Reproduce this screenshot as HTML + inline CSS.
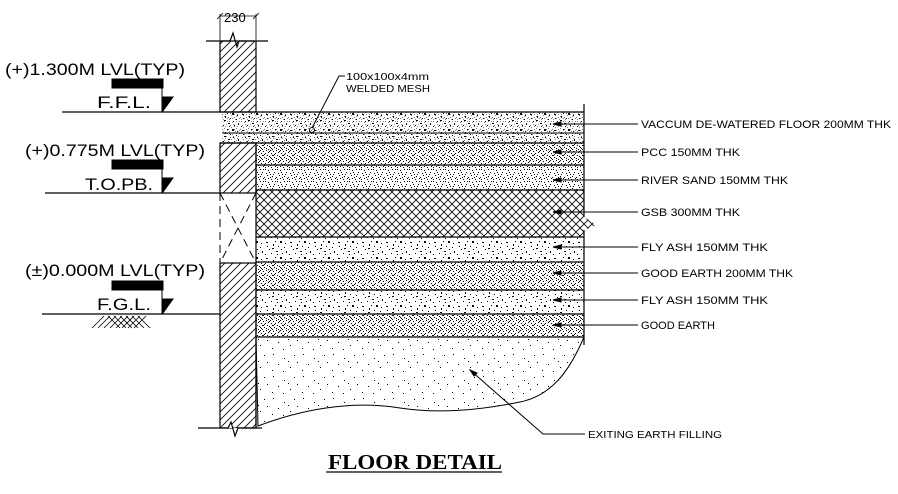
<!DOCTYPE html>
<html><head><meta charset="utf-8"><style>
html,body{margin:0;padding:0;background:#fff;width:898px;height:494px;overflow:hidden}
svg{display:block}
text{font-family:"Liberation Sans",sans-serif;fill:#000}
</style></head><body>
<svg width="898" height="494" viewBox="0 0 898 494" xmlns="http://www.w3.org/2000/svg">
<defs>
<pattern id="hatch" width="8" height="8" patternUnits="userSpaceOnUse">
<path d="M-1,9 L9,-1 M-1,1 L1,-1 M7,9 L9,7" stroke="#000" stroke-width="0.8"/>
</pattern>
<pattern id="cross" width="8" height="8" patternUnits="userSpaceOnUse">
<path d="M0,0 L8,8 M8,0 L0,8" stroke="#000" stroke-width="0.8"/>
</pattern>
<pattern id="fine" width="12" height="12" patternUnits="userSpaceOnUse">
<g fill="#000">
<rect x="1" y="1" width="1" height="1"/><rect x="4" y="2" width="1" height="1"/><rect x="8" y="1" width="1" height="1"/>
<rect x="10" y="4" width="1" height="1"/><rect x="2" y="5" width="1" height="1"/><rect x="6" y="6" width="1" height="1"/>
<rect x="0" y="9" width="1" height="1"/><rect x="4" y="10" width="1" height="1"/><rect x="8" y="8" width="1" height="1"/>
<rect x="11" y="10" width="1" height="1"/><rect x="7" y="11" width="1" height="1"/><rect x="3" y="7" width="1" height="1"/>
<rect x="9" y="6" width="1" height="1"/><rect x="5" y="4" width="1" height="1"/><rect x="1" y="11" width="1" height="1"/>
<rect x="11" y="1" width="1" height="1"/><rect x="6" y="9" width="1" height="1"/>
</g></pattern>
<pattern id="dense" width="10" height="10" patternUnits="userSpaceOnUse">
<g fill="#000">
<rect x="0" y="0" width="1" height="1"/><rect x="3" y="1" width="1" height="1"/><rect x="6" y="0" width="1" height="1"/>
<rect x="8" y="2" width="1" height="1"/><rect x="1" y="3" width="1" height="1"/><rect x="5" y="3" width="1" height="1"/>
<rect x="2" y="5" width="2" height="1"/><rect x="7" y="5" width="1" height="1"/><rect x="9" y="6" width="1" height="1"/>
<rect x="0" y="7" width="1" height="1"/><rect x="4" y="7" width="1" height="1"/><rect x="6" y="8" width="1" height="1"/>
<rect x="2" y="9" width="1" height="1"/><rect x="8" y="9" width="1" height="1"/><rect x="4" y="4" width="1" height="1"/>
<rect x="9" y="1" width="1" height="1"/><rect x="1" y="8" width="1" height="1"/>
</g></pattern>
<pattern id="speck" width="24" height="16" patternUnits="userSpaceOnUse">
<g fill="#000">
<rect x="2" y="2" width="2" height="1"/><rect x="9" y="4" width="1" height="2"/><rect x="16" y="1" width="2" height="2"/>
<rect x="20" y="7" width="1" height="1"/><rect x="5" y="9" width="1" height="1"/><rect x="12" y="11" width="2" height="1"/>
<rect x="18" y="13" width="1" height="1"/><rect x="1" y="14" width="1" height="1"/><rect x="14" y="6" width="1" height="1"/>
<rect x="7" y="13" width="1" height="1"/><rect x="22" y="11" width="1" height="2"/><rect x="11" y="1" width="1" height="1"/>
<rect x="3" y="6" width="1" height="1"/><rect x="17" y="9" width="1" height="1"/><rect x="8" y="8" width="2" height="1"/>
<rect x="21" y="3" width="1" height="1"/><rect x="13" y="14" width="1" height="1"/>
</g></pattern>
<pattern id="sparse" width="30" height="22" patternUnits="userSpaceOnUse">
<g fill="#000">
<rect x="3" y="2" width="1" height="1"/><rect x="14" y="6" width="1" height="1"/><rect x="24" y="3" width="1" height="1"/>
<rect x="8" y="12" width="1" height="1"/><rect x="20" y="15" width="1" height="1"/><rect x="27" y="10" width="1" height="1"/>
<rect x="2" y="18" width="1" height="1"/><rect x="13" y="19" width="1" height="1"/><rect x="18" y="9" width="1" height="1"/>
</g></pattern>
</defs>

<text x="224" y="22" font-size="13">230</text>
<line x1="220" y1="16" x2="256" y2="16" stroke="#000" stroke-width="0.8"/>
<line x1="220" y1="14" x2="220" y2="40" stroke="#000" stroke-width="0.8"/>
<line x1="256" y1="14" x2="256" y2="40" stroke="#000" stroke-width="0.8"/>
<path d="M217,19 L223,13 M253,19 L259,13" stroke="#000" stroke-width="0.8"/>
<path d="M206,41 L230,41 L233,33 L237,47 L239,41 L268,41" fill="none" stroke="#000" stroke-width="1.2"/>

<rect x="220" y="41" width="36" height="71" fill="url(#hatch)" stroke="#000" stroke-width="1.2"/>
<rect x="220" y="143" width="36" height="50" fill="url(#hatch)" stroke="#000" stroke-width="1.2"/>
<rect x="220" y="263" width="36" height="165" fill="url(#hatch)" stroke="#000" stroke-width="1.2"/>
<path d="M220,193 V263 M256,193 V263 M220,193 L256,263 M256,193 L220,263" stroke="#000" stroke-width="1" stroke-dasharray="8,5" fill="none"/>
<path d="M198,428 L228,428 L231,422 L235,436 L238,428 L262,428" fill="#fff" stroke="#000" stroke-width="1.2"/>

<rect x="222" y="112" width="362" height="31" fill="url(#speck)"/>
<rect x="222" y="112" width="362" height="31" fill="url(#fine)" opacity="0.5"/>
<line x1="222" y1="133" x2="584" y2="133" stroke="#000" stroke-width="1"/>
<rect x="256" y="143" width="328" height="22" fill="url(#dense)"/>
<rect x="256" y="165" width="328" height="25" fill="url(#fine)"/>
<path d="M256,190 L584,190 L584,217 L597,225 L584,230 L584,237 L256,237 Z" fill="url(#cross)"/>
<rect x="256" y="237" width="328" height="25" fill="url(#speck)"/>
<rect x="256" y="262" width="328" height="28" fill="url(#dense)"/>
<rect x="256" y="290" width="328" height="24" fill="url(#speck)"/>
<rect x="256" y="314" width="328" height="23" fill="url(#dense)"/>
<path d="M256,337 L584,337 C572,365 555,395 520,402 C480,410 440,414 400,408 C350,400 300,410 258,426 Z" fill="url(#sparse)" stroke="#000" stroke-width="1"/>
<g stroke="#000" stroke-width="1.2">
<line x1="62" y1="112" x2="584" y2="112"/>
<line x1="220" y1="143" x2="584" y2="143"/>
<line x1="256" y1="165" x2="584" y2="165"/>
<line x1="45" y1="193" x2="220" y2="193"/><line x1="256" y1="190" x2="584" y2="190"/>
<line x1="256" y1="237" x2="584" y2="237"/>
<line x1="256" y1="262" x2="584" y2="262"/>
<line x1="256" y1="290" x2="584" y2="290"/>
<line x1="42" y1="314" x2="220" y2="314"/><line x1="256" y1="314" x2="584" y2="314"/>
<line x1="256" y1="337" x2="584" y2="337"/>
<line x1="584" y1="104" x2="584" y2="217"/><line x1="584" y1="230" x2="584" y2="345"/>
<line x1="256" y1="143" x2="256" y2="428"/>
</g>

<g stroke="#000" stroke-width="1" fill="#000">
<line x1="553" y1="124" x2="638" y2="124"/><path d="M553,124 l8,-2 v4z"/>
<line x1="553" y1="152" x2="638" y2="152"/><path d="M553,152 l8,-2 v4z"/>
<line x1="553" y1="180" x2="638" y2="180"/><path d="M553,180 l8,-2 v4z"/>
<line x1="553" y1="212" x2="638" y2="212"/><path d="M553,212 l8,-2 v4z"/>
<line x1="553" y1="247" x2="638" y2="247"/><path d="M553,247 l8,-2 v4z"/>
<line x1="553" y1="273" x2="638" y2="273"/><path d="M553,273 l8,-2 v4z"/>
<line x1="553" y1="300" x2="638" y2="300"/><path d="M553,300 l8,-2 v4z"/>
<line x1="553" y1="325" x2="638" y2="325"/><path d="M553,325 l8,-2 v4z"/>
<path d="M470,370 L543,434 L585,434" fill="none"/><path d="M470,370 l7,3 l-3,3z"/>
<path d="M312,128 L339,76 L345,76" fill="none"/>
</g>
<circle cx="312" cy="130" r="2.5" fill="none" stroke="#000"/>
<text x="346" y="80" font-size="10.5" textLength="83" lengthAdjust="spacingAndGlyphs">100x100x4mm</text>
<text x="346" y="92" font-size="10.5" textLength="84" lengthAdjust="spacingAndGlyphs">WELDED MESH</text>

<g font-size="11">
<text x="641" y="128" textLength="250" lengthAdjust="spacingAndGlyphs">VACCUM DE-WATERED FLOOR 200MM THK</text>
<text x="641" y="156" textLength="99" lengthAdjust="spacingAndGlyphs">PCC 150MM THK</text>
<text x="641" y="184" textLength="147" lengthAdjust="spacingAndGlyphs">RIVER SAND 150MM THK</text>
<text x="641" y="216" textLength="99" lengthAdjust="spacingAndGlyphs">GSB 300MM THK</text>
<text x="641" y="251" textLength="127" lengthAdjust="spacingAndGlyphs">FLY ASH 150MM THK</text>
<text x="641" y="277" textLength="152" lengthAdjust="spacingAndGlyphs">GOOD EARTH 200MM THK</text>
<text x="641" y="304" textLength="127" lengthAdjust="spacingAndGlyphs">FLY ASH 150MM THK</text>
<text x="641" y="329" textLength="74" lengthAdjust="spacingAndGlyphs">GOOD EARTH</text>
<text x="588" y="438" font-size="10" textLength="134" lengthAdjust="spacingAndGlyphs">EXITING EARTH FILLING</text>
</g>

<g font-size="17">
<text x="5" y="75" textLength="180" lengthAdjust="spacingAndGlyphs">(+)1.300M  LVL(TYP)</text>
<text x="25" y="156" textLength="180" lengthAdjust="spacingAndGlyphs">(+)0.775M  LVL(TYP)</text>
<text x="25" y="276" textLength="180" lengthAdjust="spacingAndGlyphs">(±)0.000M  LVL(TYP)</text>
<text x="97" y="108" textLength="54" lengthAdjust="spacingAndGlyphs">F.F.L.</text>
<text x="85" y="190" textLength="68" lengthAdjust="spacingAndGlyphs">T.O.PB.</text>
<text x="97" y="310" textLength="54" lengthAdjust="spacingAndGlyphs">F.G.L.</text>
</g>
<g fill="#000" stroke="#000" stroke-width="1">
<rect x="112" y="79" width="51" height="9"/><line x1="162" y1="88" x2="162" y2="112"/><path d="M163,97 H173 L163,111Z"/>
<rect x="112" y="160" width="51" height="9"/><line x1="162" y1="169" x2="162" y2="193"/><path d="M163,178 H173 L163,192Z"/>
<rect x="112" y="281" width="51" height="9"/><line x1="162" y1="290" x2="162" y2="314"/><path d="M163,299 H173 L163,313Z"/>
</g>
<g stroke="#000" stroke-width="0.8">
<path d="M92,328 L104,316 M98,328 L110,316 M104,328 L116,316 M110,328 L122,316 M116,328 L128,316 M122,328 L134,316 M128,328 L140,316 M134,328 L146,316"/>
<path d="M108,316 L120,328 M114,316 L126,328 M120,316 L132,328 M126,316 L138,328 M132,316 L144,328 M138,316 L150,328"/>
</g>

<text x="328" y="469" font-size="21" font-weight="bold" textLength="174" lengthAdjust="spacingAndGlyphs" style="font-family:'Liberation Serif',serif">FLOOR  DETAIL</text>
<line x1="326" y1="472" x2="502" y2="472" stroke="#000" stroke-width="1.2"/>
</svg>
</body></html>
